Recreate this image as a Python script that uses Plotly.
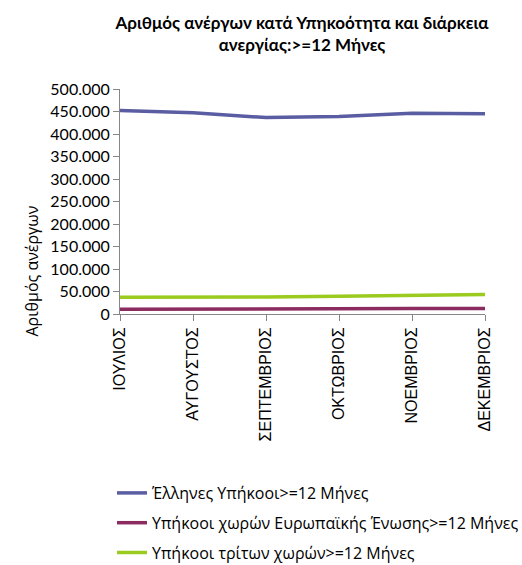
import plotly.graph_objects as go

months = ["ΙΟΥΛΙΟΣ", "ΑΥΓΟΥΣΤΟΣ", "ΣΕΠΤΕΜΒΡΙΟΣ", "ΟΚΤΩΒΡΙΟΣ", "ΝΟΕΜΒΡΙΟΣ", "ΔΕΚΕΜΒΡΙΟΣ"]
greeks = [452000, 447000, 436500, 439000, 446000, 445000]
eu = [10500, 10500, 10500, 11000, 12000, 12500]
third = [37500, 37500, 38000, 39500, 41500, 43500]
series_names = [
    "Έλληνες Υπήκοοι>=12 Μήνες",
    "Υπήκοοι χωρών Ευρωπαϊκής Ένωσης>=12 Μήνες",
    "Υπήκοοι τρίτων χωρών>=12 Μήνες",
]
colors = ["#5A5DA2", "#8C2B5F", "#9ACB1E"]

W, H = 522, 565
L, R, T, B = 120, 485, 89, 314.5

fig = go.Figure()
xs = list(range(len(months)))
for i, (name, vals) in enumerate(zip(series_names, [greeks, eu, third])):
    fig.add_trace(go.Scatter(
        x=xs, y=vals, mode="lines", name=name,
        line=dict(color=colors[i], width=3.5),
        legendgroup=f"g{i}",
    ))

font_main = "Liberation Sans, Arial, sans-serif"
font_c = "Lato, sans-serif"

fig.update_layout(
    width=W, height=H,
    margin=dict(l=L, r=W - R, t=T, b=H - B, pad=0, autoexpand=False),
    paper_bgcolor="white", plot_bgcolor="white",
    separators=",.",
    showlegend=True,
    title=dict(
        text="<b>Αριθμός ανέργων κατά Υπηκοότητα και διάρκεια<br>ανεργίας:>=12 Μήνες</b>",
        x=302 / W, xanchor="center", xref="container",
        y=1 - 29 / H, yanchor="middle", yref="container",
        font=dict(family="Lato, sans-serif", size=17, color="#000"),
    ),
    legend=dict(
        xref="container", yref="container",
        x=112 / W, xanchor="left",
        y=1 - 476 / H, yanchor="top",
        font=dict(family="Open Sans, sans-serif", size=16, color="#000"),
        tracegroupgap=6,
        itemwidth=30,
        bgcolor="rgba(0,0,0,0)",
    ),
    font=dict(family=font_c, color="#000"),
)

fig.update_xaxes(
    range=[0, len(months) - 1],
    tickmode="array", tickvals=xs, ticktext=months,
    tickangle=-90,
    showline=True, linecolor="#868686", linewidth=1,
    ticks="outside", ticklen=6, tickcolor="#868686",
    showgrid=False, zeroline=False, automargin=False,
    tickfont=dict(family=font_main, size=16, color="#000"),
    fixedrange=True,
)
fig.update_yaxes(
    range=[0, 500000], tickmode="linear", tick0=0, dtick=50000,
    tickformat=",.0f",
    showline=True, linecolor="#868686", linewidth=1,
    ticks="outside", ticklen=6, tickcolor="#868686",
    showgrid=False, zeroline=False, automargin=False,
    tickfont=dict(family=font_c, size=16, color="#000"),
    fixedrange=True,
)

fig.add_annotation(
    text="Αριθμός ανέργων", textangle=-90,
    xref="paper", yref="paper",
    x=(32 - L) / (R - L), y=(B - 272) / (B - T),
    xanchor="center", yanchor="middle", showarrow=False,
    font=dict(family="Open Sans, sans-serif", size=16, color="#000"),
)

fig.write_html(
    "out.html",
    config={"displayModeBar": False},
    post_script="document.body.style.margin='0';document.body.style.padding='0';",
)
